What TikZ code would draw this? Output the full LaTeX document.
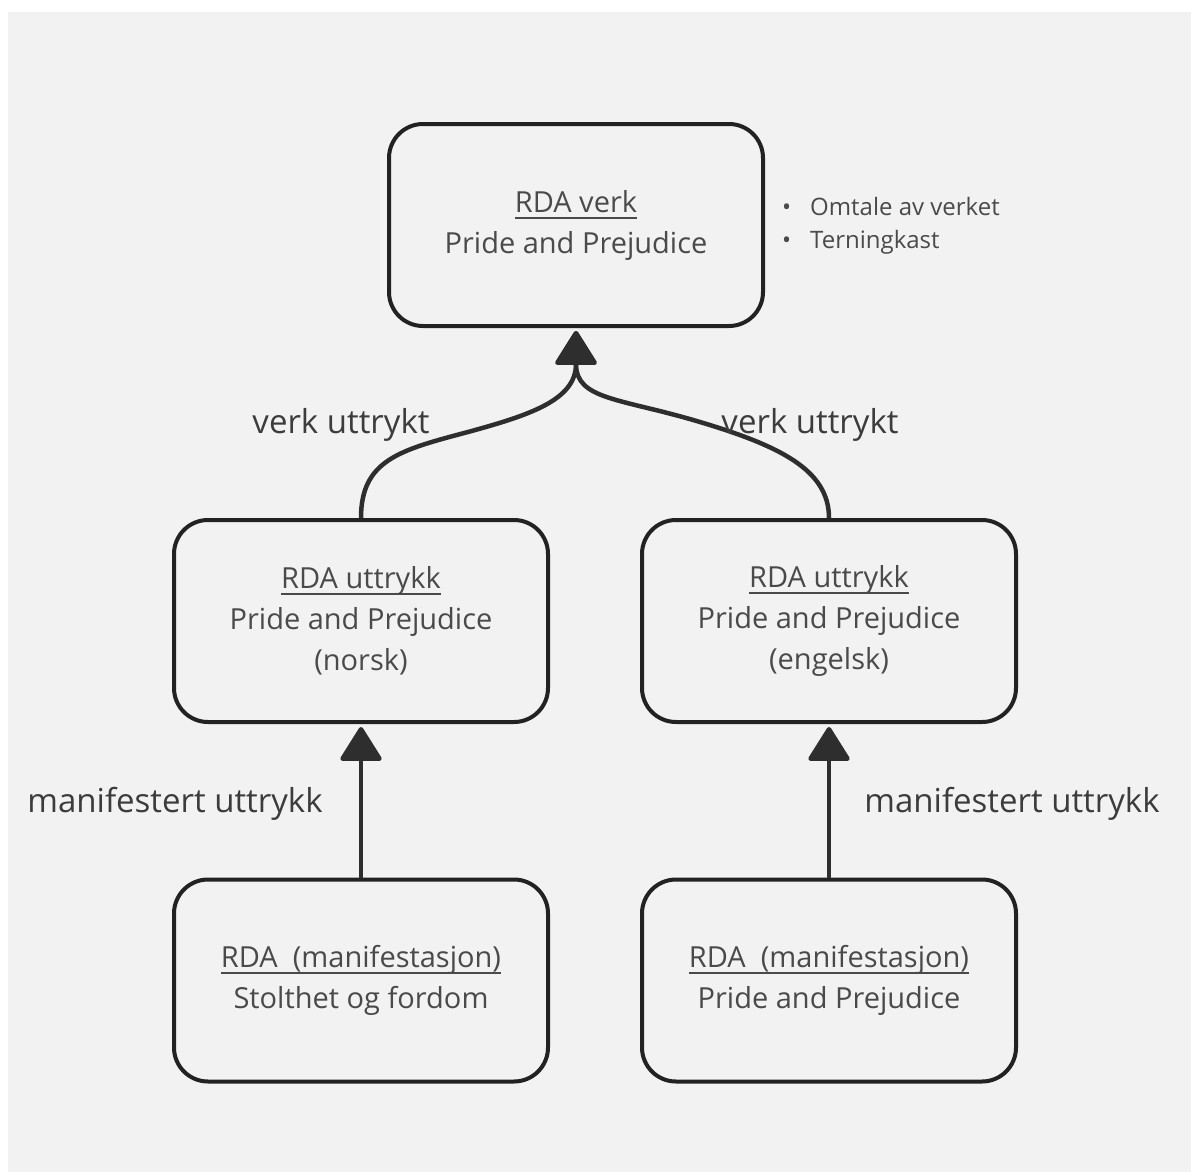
\documentclass[tikz,border=0pt]{standalone}
\usepackage{fontspec}
\setmainfont{Open Sans}
\usetikzlibrary{arrows.meta}

\definecolor{bg}{HTML}{F2F2F2}
\definecolor{boxline}{HTML}{222222}
\definecolor{arrowcol}{HTML}{2E2E2E}
\definecolor{boxtext}{HTML}{4A4A4A}
\definecolor{labeltext}{HTML}{3C3C3C}

\newcommand\boxfont{\fontsize{29}{41}\selectfont}
\newcommand\labelfont{\fontsize{33}{40}\selectfont}
\newcommand\notefont{\fontsize{24}{33}\selectfont}
\newcommand\bulletitem[1]{\makebox[28pt][l]{\textbullet}#1}
% heading with a firm rule a little below the baseline
\newsavebox\headbox
\newcommand\heading[1]{\sbox\headbox{#1}%
  \rlap{\rule[-6.5pt]{\wd\headbox}{2pt}}\usebox\headbox}

\begin{document}
\begin{tikzpicture}[x=1pt,y=-1pt,
  entity/.style={draw=boxline, line width=4pt, rounded corners=34pt,
    minimum width=374pt, minimum height=202pt, inner sep=0pt,
    align=center, text=boxtext, font=\boxfont},
  link/.style={draw=arrowcol, line width=4.5pt, shorten >=3pt,
    -{Triangle[width=44pt,length=36pt,round]}},
  rel/.style={text=labeltext, font=\labelfont, anchor=base, inner sep=0pt},
]
  % canvas
  \useasboundingbox (0,0) rectangle (1191,1172);
  \fill[white] (0,0) rectangle (1191,1172);
  \fill[bg] (8,12) rectangle (1191,1172);

  % entities
  \node[entity] (work) at (576,225)
    {\heading{RDA verk}\\Pride and Prejudice};
  \node[entity] (exprno) at (361,621)
    {\heading{RDA uttrykk}\\Pride and Prejudice\\(norsk)};
  \node[entity] (expren) at (829,621)
    {\heading{RDA uttrykk}\\Pride and Prejudice\\(engelsk)};
  \node[entity] (manno) at (361,980.5)
    {\heading{RDA\ \ (manifestasjon)}\\Stolthet og fordom};
  \node[entity] (manen) at (829,980.5)
    {\heading{RDA\ \ (manifestasjon)}\\Pride and Prejudice};

  % attributes of the work (base anchor sits on the last line)
  \node[anchor=base west, inner sep=0pt, align=left, text=boxtext,
        font=\notefont] (notes) at (782,248)
    {\bulletitem{Omtale av verket}\\\bulletitem{Terningkast}};

  % expression -> work
  \draw[link] (exprno.north) .. controls (361,460) and (400,450) .. (468,432)
    .. controls (530,415) and (576,400) .. (work.south);
  \draw[link] (expren.north) .. controls (829,470) and (780,446) .. (700,422)
    .. controls (620,398) and (576,400) .. (work.south);

  % manifestation -> expression
  \draw[link] (manno.north) -- (exprno.south);
  \draw[link] (manen.north) -- (expren.south);

  % relationship labels
  \node[rel] (lw1) at (341,433) {verk uttrykt};
  \node[rel] (lw2) at (810,433) {verk uttrykt};
  \node[rel] (lm1) at (175,812) {manifestert uttrykk};
  \node[rel] (lm2) at (1012,812) {manifestert uttrykk};
\end{tikzpicture}
\end{document}
